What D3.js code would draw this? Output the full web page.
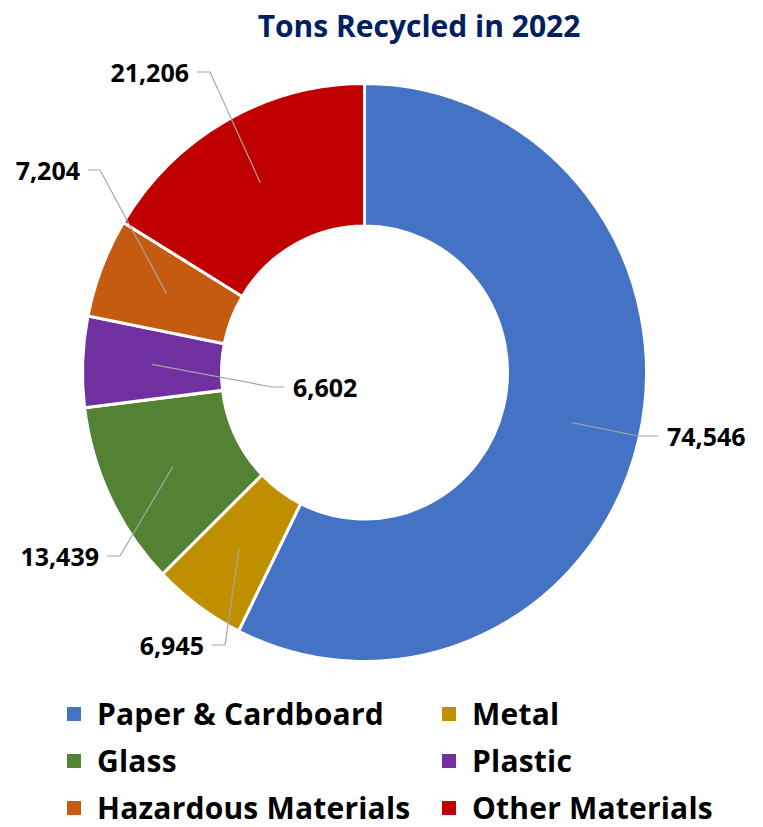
<!DOCTYPE html>
<html>
<head>
<meta charset="utf-8">
<script src="https://cdn.jsdelivr.net/npm/d3@7"></script>
<style>
  body { margin: 0; background: #fff; }
  svg text { font-family: "Open Sans", Lato, sans-serif; font-weight: 700; }
</style>
</head>
<body>
<svg id="chart" width="763" height="827"></svg>
<script>
const categories = ["Paper & Cardboard", "Metal", "Glass", "Plastic", "Hazardous Materials", "Other Materials"];
const tons = [74546, 6945, 13439, 6602, 7204, 21206];
const colors = ["#4472C4", "#BF8F00", "#548235", "#7030A0", "#C55A11", "#C00000"];

// legend order (two columns, reading across)
const legendOrder = [0, 1, 2, 3, 4, 5];

// label layout: [elbow x, elbow y, end x, anchor]
const labelLayout = [
    [638, 436, 658, "start"],
    [225, 645, 212, "end"],
    [120, 556, 107, "end"],
    [272, 387, 284, "start"],
    [100, 170, 88, "end"],
    [210, 72, 197, "end"],
];

const cx = 364.5, cy = 372.5;
const rOuter = 282, rInner = 143, yStretch = 1.025;

const svg = d3.select("#chart");

svg.append("text")
    .attr("x", 419)
    .attr("y", 37)
    .attr("text-anchor", "middle")
    .attr("font-size", 30)
    .attr("fill", "#002060")
    .text("Tons Recycled in 2022");

const pie = d3.pie().sort(null).value(d => d)(tons);
const arc = d3.arc().innerRadius(rInner).outerRadius(rOuter);

const ring = svg.append("g")
    .attr("transform", `translate(${cx},${cy}) scale(1,${yStretch})`);

ring.selectAll("path")
    .data(pie)
    .enter()
    .append("path")
    .attr("d", arc)
    .attr("fill", (d, i) => colors[i])
    .attr("stroke", "#fff")
    .attr("stroke-width", 3)
    .attr("stroke-linejoin", "miter");

const fmt = d3.format(",");

pie.forEach((d, i) => {
    const c = arc.centroid(d);
    const sx = cx + c[0], sy = cy + c[1] * yStretch;
    const [ex, ey, endX, anchor] = labelLayout[i];
    svg.append("polyline")
        .attr("points", `${sx},${sy} ${ex},${ey} ${endX},${ey}`)
        .attr("fill", "none")
        .attr("stroke", "#a6a6a6")
        .attr("stroke-width", 1.2);
    svg.append("text")
        .attr("x", anchor === "start" ? endX + 9 : endX - 8)
        .attr("y", ey + 1)
        .attr("dy", "0.36em")
        .attr("text-anchor", anchor)
        .attr("font-size", 25)
        .attr("fill", "#000")
        .text(fmt(d.value));
});

const legend = svg.append("g");
legendOrder.forEach((idx, k) => {
    const col = k % 2, row = Math.floor(k / 2);
    const x = 67 + col * 375, y = 714 + row * 47;
    legend.append("rect")
        .attr("x", x)
        .attr("y", y - 7)
        .attr("width", 14)
        .attr("height", 14)
        .attr("fill", colors[idx]);
    legend.append("text")
        .attr("x", x + 30)
        .attr("y", y)
        .attr("dy", "0.36em")
        .attr("font-size", 30)
        .attr("letter-spacing", 0.2)
        .attr("fill", "#000")
        .text(categories[idx]);
});
</script>
</body>
</html>
